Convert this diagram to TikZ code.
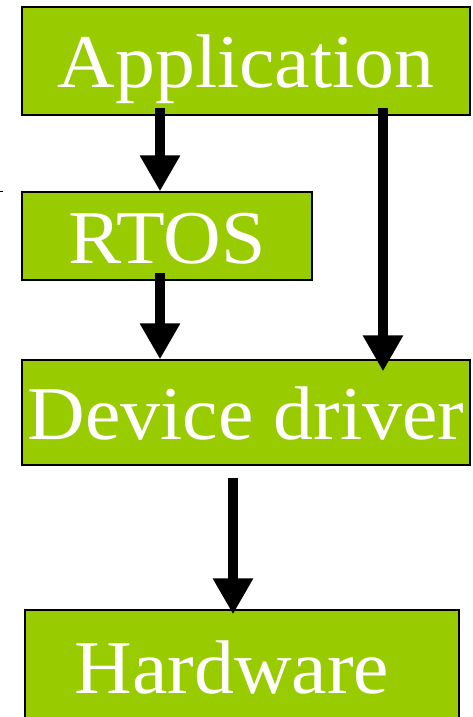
\documentclass[tikz,border=0pt]{standalone}
\usepackage{fontspec}
\setmainfont{Liberation Serif}
\newfontfamily\layerfont[FakeStretch=1.05]{Liberation Serif}
\usetikzlibrary{arrows.meta}
\definecolor{layergreen}{HTML}{99CC00}
\tikzset{
  layer/.style={draw=black, line width=1.3pt, fill=layergreen, text=white,
    inner sep=0pt, text height=54pt, text depth=0pt,
    font=\layerfont\fontsize{76}{76}\selectfont},
  flow/.style={line width=10pt, -{Triangle[width=38pt,length=36pt]}}
}
\begin{document}
\begin{tikzpicture}[x=1pt,y=1pt]
  \useasboundingbox (0,0) rectangle (473,-717);
  % software/hardware layers
  \node[layer, minimum width=448pt, minimum height=108pt] (app)  at (246,-61)    {Application};
  \node[layer, minimum width=290pt, minimum height=88pt]  (rtos) at (167,-236)   {RTOS};
  \node[layer, minimum width=448pt, minimum height=105pt] (dd)   at (246,-412.5) {Device driver};
  \node[layer, minimum width=434pt, minimum height=112pt] (hw)   at (242,-666)   {Hardware\hspace*{20pt}};
  % call paths between layers
  \draw[flow, shorten <=-8pt]  ([xshift=-86pt]app.south) -- ([xshift=-7pt]rtos.north);
  \draw[flow, shorten <=-8pt]  ([xshift=-7pt]rtos.south) -- ([xshift=-86pt]dd.north);
  \draw[flow, shorten <=-8pt, shorten >=-12pt] ([xshift=137pt]app.south) -- ([xshift=137pt]dd.north);
  \draw[flow, shorten <=12pt, shorten >=-5pt]  ([xshift=-13pt]dd.south) -- ([xshift=-9pt]hw.north);
  % small stray tick on the left edge
  \draw[line width=1pt] (0,-191) -- (3,-191);
\end{tikzpicture}
\end{document}
